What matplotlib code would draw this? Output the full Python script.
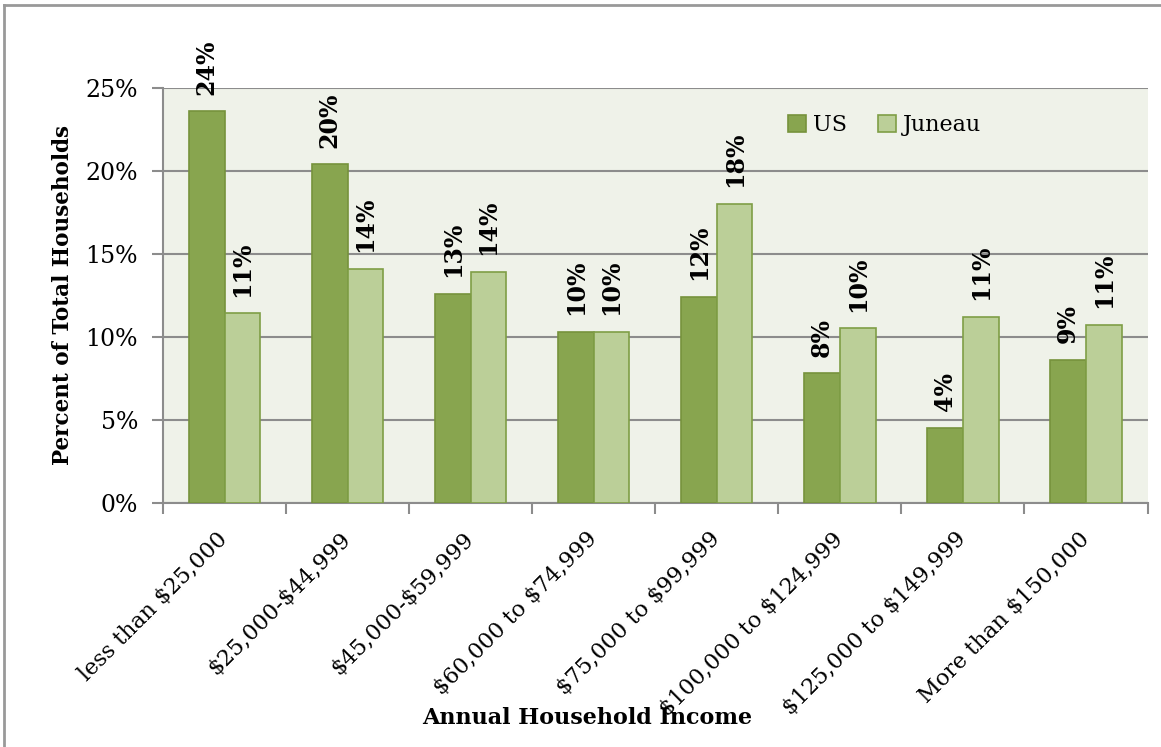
import matplotlib.pyplot as plt
import numpy as np
from matplotlib.lines import Line2D
from matplotlib.ticker import FuncFormatter

categories = ["less than $25,000", "$25,000-$44,999", "$45,000-$59,999",
              "$60,000 to $74,999", "$75,000 to $99,999", "$100,000 to $124,999",
              "$125,000 to $149,999", "More than $150,000"]
us = [23.6, 20.4, 12.6, 10.3, 12.4, 7.8, 4.5, 8.6]
juneau = [11.4, 14.1, 13.9, 10.3, 18.0, 10.5, 11.2, 10.7]
yticks = [0, 5, 10, 15, 20, 25]

plt.rcParams['font.family'] = ['DejaVu Serif']
plt.rcParams['text.parse_math'] = False

fig = plt.figure(figsize=(11.61, 7.47), dpi=100)
ax = fig.add_axes([163/1161, 1 - 502.5/747, (1147.5-163)/1161, (502.5-88)/747])
ax.set_facecolor('#EFF2E9')

x = np.arange(len(categories))
w = 0.29
b1 = ax.bar(x - w/2, us, w, color='#88A54F', edgecolor='#76923C', linewidth=1.2, label='US', zorder=3)
b2 = ax.bar(x + w/2, juneau, w, color='#BBCF98', edgecolor='#7F9E46', linewidth=1.2, label='Juneau', zorder=3)

for bars, vals in ((b1, us), (b2, juneau)):
    for bar, v in zip(bars, vals):
        ax.annotate(f"{v:.0f}%", (bar.get_x() + bar.get_width()/2, v),
                    xytext=(0, 12), textcoords='offset points', rotation=90,
                    ha='center', va='bottom', fontsize=17, fontweight='bold', zorder=4)

ax.set_xlim(-0.5, len(categories) - 0.5)
ax.set_ylim(0, 25)
ax.set_yticks(yticks)
ax.yaxis.set_major_formatter(FuncFormatter(lambda v, p: f"{v:.0f}%"))
ax.grid(axis='y', color='#8C8C8C', linewidth=1.5, zorder=1)
ax.set_xticks(np.arange(len(categories) + 1) - 0.5)
ax.set_xticklabels([])
ax.set_xticks(x, minor=True)
ax.set_xticklabels(categories, minor=True, rotation=45, ha='right', va='center',
                   rotation_mode='anchor', fontsize=16)
ax.tick_params(axis='x', which='minor', length=0, pad=24)
ax.tick_params(axis='x', which='major', length=8, width=1.5, color='#8C8C8C')
ax.tick_params(axis='y', length=8, width=1.5, color='#8C8C8C', labelsize=17, pad=10)

for s in ['top', 'right']:
    ax.spines[s].set_visible(False)
for s in ['left', 'bottom']:
    ax.spines[s].set_color('#8C8C8C')
    ax.spines[s].set_linewidth(1.5)

ax.set_ylabel("Percent of Total Households", fontsize=15.5, fontweight='bold', labelpad=8)
fig.text(587/1161, 1 - 718/747, "Annual Household Income", ha='center', va='center',
         fontsize=16, fontweight='bold')

ax.legend(loc='upper left', bbox_to_anchor=(0.615, 0.985), ncol=2, frameon=False,
          fontsize=16, handlelength=0.8, handleheight=0.8, handletextpad=0.3,
          columnspacing=1.4)

fig.add_artist(Line2D([4/1161, 1], [1 - 5/747, 1 - 5/747], color='#999999', linewidth=2))
fig.add_artist(Line2D([4/1161, 4/1161], [0, 1 - 5/747], color='#999999', linewidth=2))

fig.savefig('out.png', dpi=100)
